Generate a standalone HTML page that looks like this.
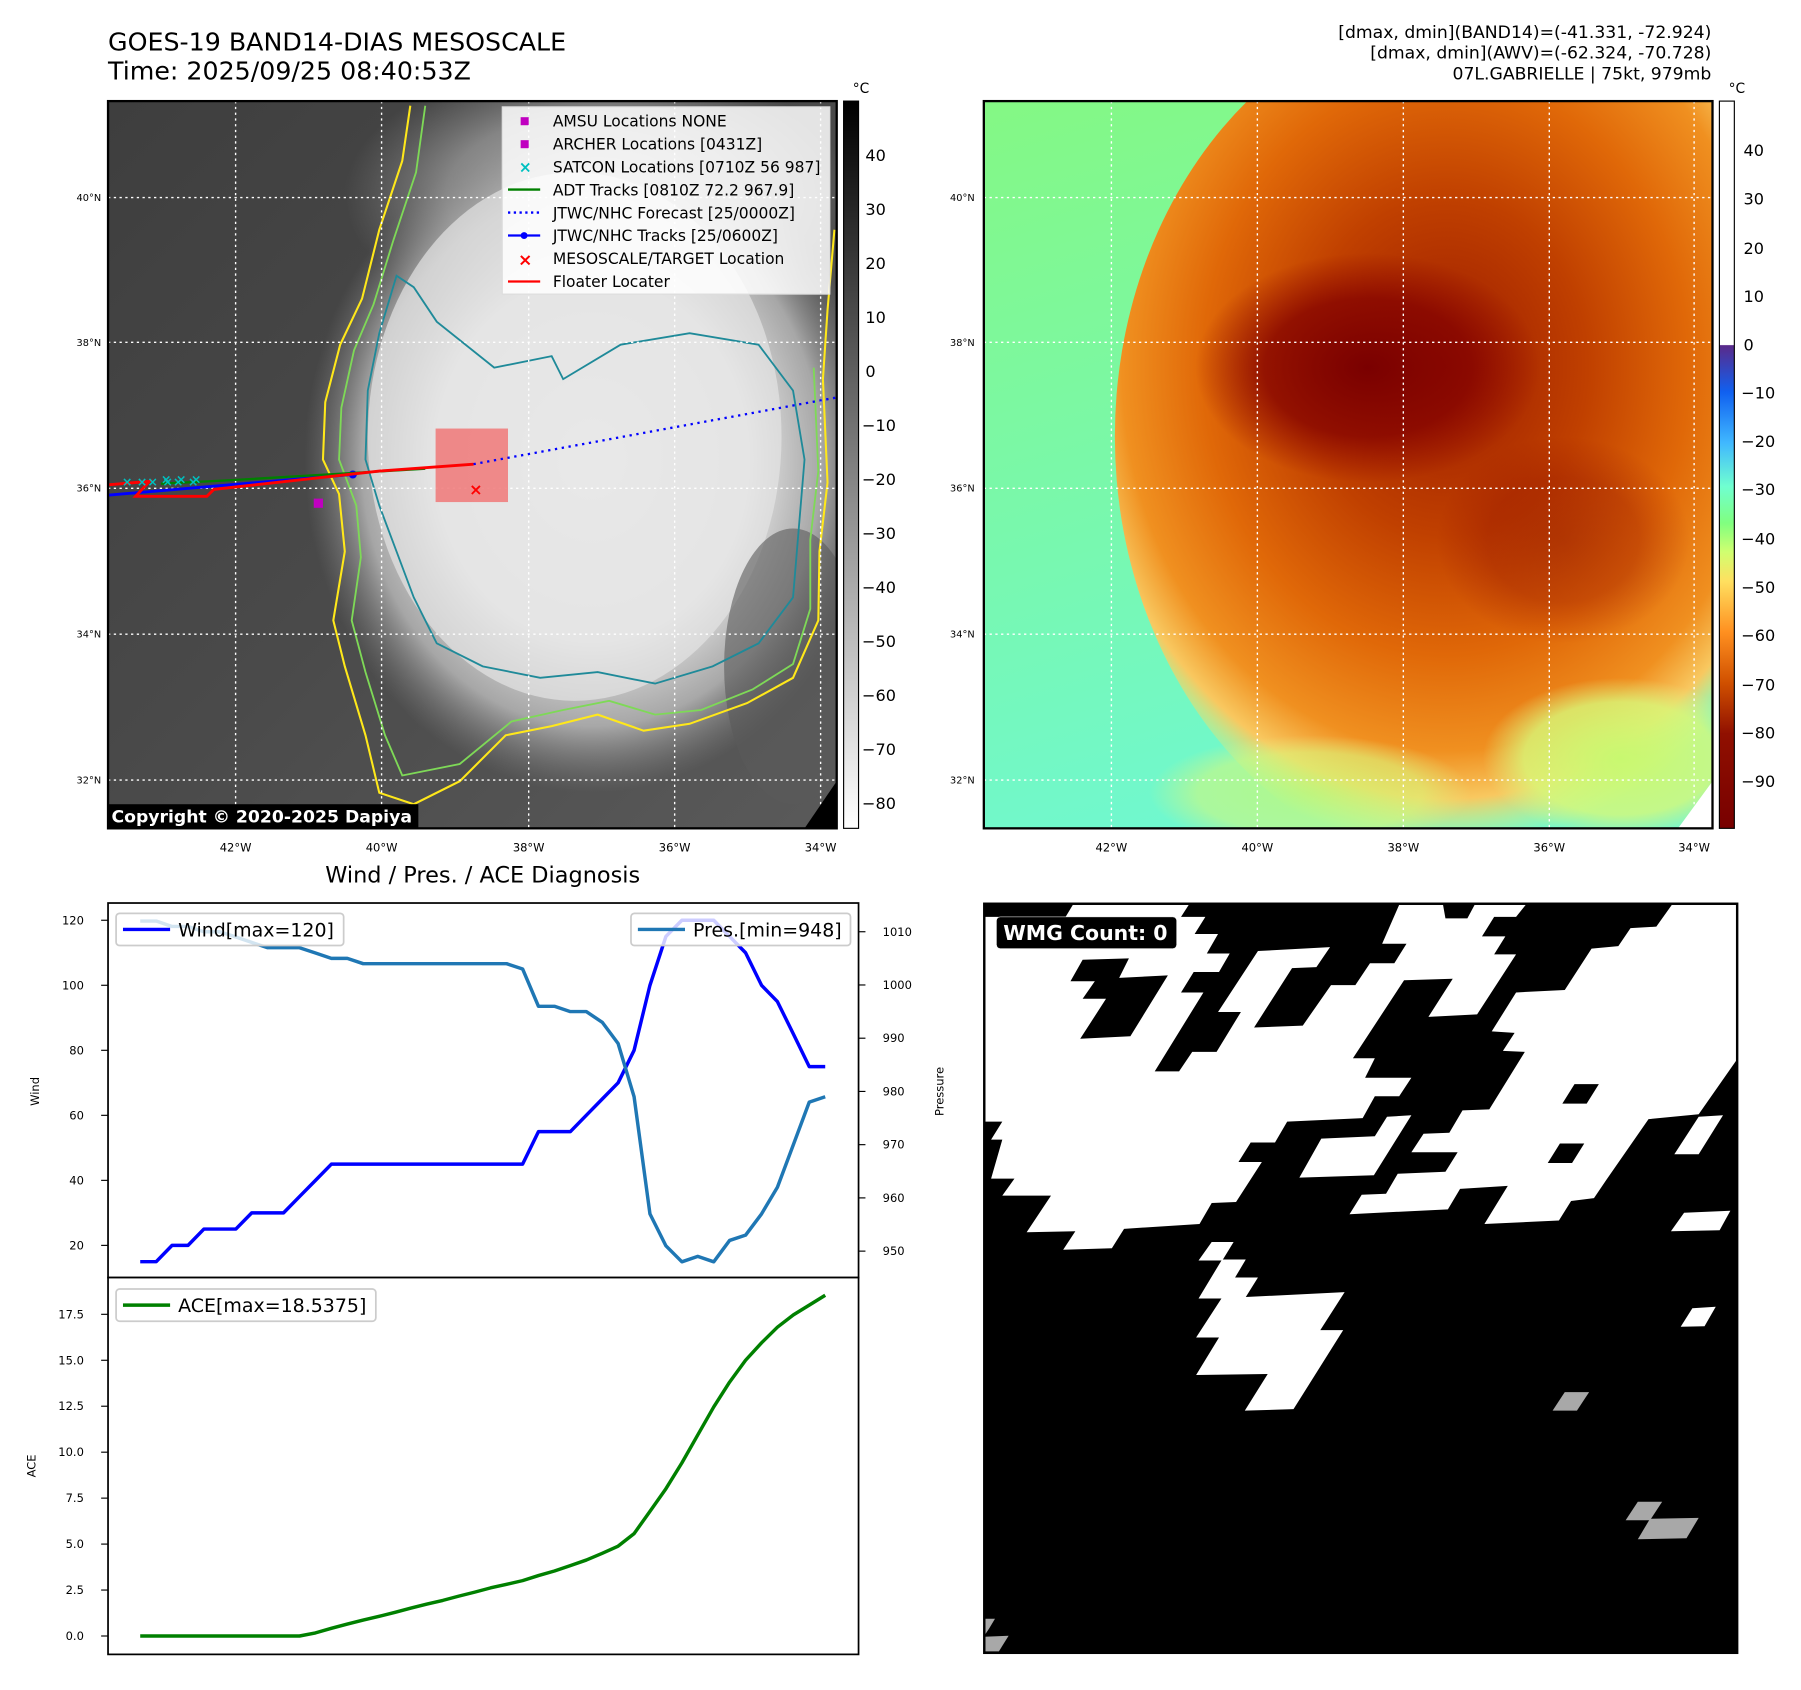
<!DOCTYPE html>
<html><head><meta charset="utf-8"><style>
html,body{margin:0;padding:0;background:#fff;}
svg{display:block;font-family:"DejaVu Sans","Liberation Sans",sans-serif;}
</style></head><body>
<svg id="root" width="1801" height="1690" viewBox="0 0 1567 1471" preserveAspectRatio="none" xmlns="http://www.w3.org/2000/svg">
<defs>
<radialGradient id="cloudG" cx="0.5" cy="0.5" r="0.5">
<stop offset="0" stop-color="#f2f2f2"/><stop offset="0.55" stop-color="#e6e6e6"/><stop offset="0.8" stop-color="#bdbdbd" stop-opacity="0.8"/><stop offset="1" stop-color="#888" stop-opacity="0"/>
</radialGradient>
<radialGradient id="topG" cx="0.5" cy="0.5" r="0.5">
<stop offset="0" stop-color="#c8c8c8"/><stop offset="0.6" stop-color="#a0a0a0" stop-opacity="0.7"/><stop offset="1" stop-color="#888" stop-opacity="0"/>
</radialGradient>
<linearGradient id="bgL" x1="0" y1="0" x2="1" y2="1">
<stop offset="0" stop-color="#3e3e3e"/><stop offset="0.5" stop-color="#4a4a4a"/><stop offset="1" stop-color="#5a5a5a"/>
</linearGradient>
<linearGradient id="cbL" x1="0" y1="0" x2="0" y2="1">
<stop offset="0" stop-color="#000"/><stop offset="1" stop-color="#fff"/>
</linearGradient>
<linearGradient id="cbR" x1="0" y1="0" x2="0" y2="1">
<stop offset="0" stop-color="#fff"/><stop offset="0.335" stop-color="#fff"/>
<stop offset="0.336" stop-color="#5a2a8a"/><stop offset="0.40" stop-color="#1060f0"/>
<stop offset="0.47" stop-color="#40b8ff"/><stop offset="0.53" stop-color="#70ffd0"/>
<stop offset="0.58" stop-color="#80ff80"/><stop offset="0.62" stop-color="#d0ff70"/>
<stop offset="0.66" stop-color="#ffe060"/><stop offset="0.73" stop-color="#ff9020"/>
<stop offset="0.80" stop-color="#d05000"/><stop offset="0.87" stop-color="#901000"/>
<stop offset="1" stop-color="#780000"/>
</linearGradient>
<linearGradient id="bgR" x1="0" y1="0" x2="0.3" y2="1">
<stop offset="0" stop-color="#84f884"/><stop offset="0.6" stop-color="#78f8b0"/><stop offset="1" stop-color="#70f8d0"/>
</linearGradient>
<radialGradient id="stormR" cx="0.45" cy="0.42" r="0.55">
<stop offset="0" stop-color="#9a1a00"/><stop offset="0.35" stop-color="#c04000"/>
<stop offset="0.6" stop-color="#e06808"/><stop offset="0.8" stop-color="#f09020"/>
<stop offset="0.9" stop-color="#f8c860"/><stop offset="1" stop-color="#d8f880" stop-opacity="0"/>
</radialGradient>
<radialGradient id="darkR" cx="0.5" cy="0.5" r="0.5">
<stop offset="0" stop-color="#7a0000"/><stop offset="0.6" stop-color="#860400" stop-opacity="0.8"/><stop offset="1" stop-color="#900800" stop-opacity="0"/>
</radialGradient>
<radialGradient id="yelR" cx="0.5" cy="0.5" r="0.5">
<stop offset="0" stop-color="#c8f870"/><stop offset="0.7" stop-color="#d8f878" stop-opacity="0.8"/><stop offset="1" stop-color="#e0f080" stop-opacity="0"/>
</radialGradient>
<clipPath id="clipL"><rect x="94" y="88" width="634" height="633"/></clipPath>
<clipPath id="clipR"><rect x="856" y="88" width="634" height="633"/></clipPath>
</defs>

<text x="94" y="44" font-size="22">GOES-19 BAND14-DIAS MESOSCALE</text>
<text x="94" y="69" font-size="22">Time: 2025/09/25 08:40:53Z</text>
<g font-size="15" text-anchor="end">
<text x="1489" y="33">[dmax, dmin](BAND14)=(-41.331, -72.924)</text>
<text x="1489" y="51">[dmax, dmin](AWV)=(-62.324, -70.728)</text>
<text x="1489" y="69">07L.GABRIELLE | 75kt, 979mb</text>
</g>

<g clip-path="url(#clipL)">
<rect x="94" y="88" width="634" height="633" fill="url(#bgL)"/>
<ellipse cx="520" cy="170" rx="220" ry="120" fill="url(#topG)"/>
<ellipse cx="515" cy="400" rx="250" ry="290" fill="url(#cloudG)"/>
<ellipse cx="500" cy="380" rx="180" ry="230" fill="#e4e4e4" opacity="0.7"/>
<ellipse cx="690" cy="580" rx="60" ry="120" fill="#5a5a5a" opacity="0.6"/>
<path d="M357,92 L350,140 L330,200 L315,260 L296,300 L283,350 L281,400 L295,430 L300,480 L290,540 L300,580 L318,640 L330,690 L360,700 L400,680 L440,640 L480,632 L520,622 L560,636 L600,630 L650,612 L690,590 L712,540 L713,480 L720,420 L716,330 L720,270 L726,200" fill="none" stroke="#ffe81a" stroke-width="1.8"/>
<path d="M370,92 L362,150 L342,210 L325,265 L308,305 L297,355 L295,400 L310,440 L314,485 L306,540 L318,585 L335,640 L350,675 L400,665 L445,628 L490,618 L530,610 L570,622 L610,618 L655,600 L690,578 L705,530 L705,470 L712,410 L708,320" fill="none" stroke="#7ed957" stroke-width="1.6"/>
<path d="M345,240 L330,290 L320,340 L318,400 L330,440 L345,480 L360,520 L380,560 L420,580 L470,590 L520,585 L570,595 L620,580 L660,560 L690,520 L695,460 L700,400 L690,340 L660,300 L600,290 L540,300 L490,330 L480,310 L430,320 L380,280 L360,250 Z" fill="none" stroke="#1f8a99" stroke-width="1.6"/>
<g stroke="#fff" stroke-width="1.2" stroke-dasharray="2,3">
<line x1="94" y1="172" x2="728" y2="172"/><line x1="94" y1="298" x2="728" y2="298"/><line x1="94" y1="425" x2="728" y2="425"/><line x1="94" y1="552" x2="728" y2="552"/><line x1="94" y1="679" x2="728" y2="679"/>
<line x1="205" y1="88" x2="205" y2="721"/><line x1="332" y1="88" x2="332" y2="721"/><line x1="460" y1="88" x2="460" y2="721"/><line x1="587" y1="88" x2="587" y2="721"/><line x1="714" y1="88" x2="714" y2="721"/>
</g>
<rect x="379" y="373" width="63" height="64" fill="#f07878" opacity="0.85"/>
<line x1="412" y1="404" x2="728" y2="346" stroke="#0000ff" stroke-width="2" stroke-dasharray="2,4"/>
<polyline points="94,431 200,422 307,413" fill="none" stroke="#0000ff" stroke-width="2.5"/>
<circle cx="307" cy="413" r="3.5" fill="#0000ff"/>
<polyline points="140,421 200,418 370,408" fill="none" stroke="#008000" stroke-width="2"/>
<polyline points="94,422 130,419 118,432 180,432 186,426 330,410 412,404" fill="none" stroke="#ff0000" stroke-width="2.5"/>
<g fill="#00c0c0" font-size="11" font-weight="bold"><text x="106" y="423">× ×× ×× ×</text><text x="140" y="421">× × ×</text></g>
<text x="414" y="431" fill="#ff0000" font-size="14" text-anchor="middle" font-weight="bold">×</text>
<rect x="273" y="434" width="8" height="8" fill="#c000c0"/>
<g>
<rect x="437" y="93" width="285" height="163" fill="#fff" fill-opacity="0.85" stroke="#ddd"/>
<g font-size="13.5">
<rect x="453" y="102" width="7" height="7" fill="#c000c0"/><text x="481" y="110">AMSU Locations NONE</text>
<rect x="453" y="122" width="7" height="7" fill="#c000c0"/><text x="481" y="130">ARCHER Locations [0431Z]</text>
<text x="457" y="150" fill="#00c0c0" text-anchor="middle" font-weight="bold">×</text><text x="481" y="150">SATCON Locations [0710Z 56 987]</text>
<line x1="442" y1="165" x2="470" y2="165" stroke="#008000" stroke-width="2"/><text x="481" y="170">ADT Tracks [0810Z 72.2 967.9]</text>
<line x1="442" y1="185" x2="470" y2="185" stroke="#0000ff" stroke-width="2" stroke-dasharray="2,3"/><text x="481" y="190">JTWC/NHC Forecast [25/0000Z]</text>
<line x1="442" y1="205" x2="470" y2="205" stroke="#0000ff" stroke-width="2"/><circle cx="456" cy="205" r="3" fill="#0000ff"/><text x="481" y="210">JTWC/NHC Tracks [25/0600Z]</text>
<text x="457" y="231" fill="#ff0000" text-anchor="middle" font-weight="bold" font-size="15">×</text><text x="481" y="230">MESOSCALE/TARGET Location</text>
<line x1="442" y1="245" x2="470" y2="245" stroke="#ff0000" stroke-width="2"/><text x="481" y="250">Floater Locater</text>
</g></g>
<polygon points="700,721 728,680 728,721" fill="#000"/>
<rect x="94" y="700" width="270" height="21" fill="#000"/>
<text x="97" y="716" fill="#fff" font-size="15" font-weight="bold">Copyright © 2020-2025 Dapiya</text>
</g>
<rect x="94" y="88" width="634" height="633" fill="none" stroke="#000" stroke-width="2"/>
<g font-size="8.5" text-anchor="end">
<text x="88" y="175">40°N</text><text x="88" y="301">38°N</text><text x="88" y="428">36°N</text><text x="88" y="555">34°N</text><text x="88" y="682">32°N</text></g>
<g font-size="10" text-anchor="middle">
<text x="205" y="741">42°W</text><text x="332" y="741">40°W</text><text x="460" y="741">38°W</text><text x="587" y="741">36°W</text><text x="714" y="741">34°W</text></g>
<rect x="734" y="88" width="13" height="633" fill="url(#cbL)" stroke="#000" stroke-width="1"/>
<text x="742" y="81" font-size="12">°C</text>
<g font-size="14">
<text x="753" y="140">40</text><text x="753" y="187">30</text><text x="753" y="234">20</text><text x="753" y="281">10</text><text x="753" y="328">0</text>
<text x="750" y="375">−10</text><text x="750" y="422">−20</text><text x="750" y="469">−30</text><text x="750" y="516">−40</text><text x="750" y="563">−50</text><text x="750" y="610">−60</text><text x="750" y="657">−70</text><text x="750" y="704">−80</text></g>

<g clip-path="url(#clipR)">
<rect x="856" y="88" width="634" height="633" fill="url(#bgR)"/>
<ellipse cx="1290" cy="380" rx="320" ry="380" fill="url(#stormR)"/>
<ellipse cx="1190" cy="320" rx="150" ry="100" fill="url(#darkR)"/>
<ellipse cx="1360" cy="470" rx="110" ry="90" fill="url(#darkR)" opacity="0.35"/>
<ellipse cx="1410" cy="660" rx="120" ry="70" fill="url(#yelR)"/>
<ellipse cx="1140" cy="690" rx="140" ry="50" fill="url(#yelR)" opacity="0.7"/>
<polygon points="1460,721 1490,680 1490,721" fill="#fff"/>
<g stroke="#fff" stroke-width="1.2" stroke-dasharray="2,3">
<line x1="856" y1="172" x2="1490" y2="172"/><line x1="856" y1="298" x2="1490" y2="298"/><line x1="856" y1="425" x2="1490" y2="425"/><line x1="856" y1="552" x2="1490" y2="552"/><line x1="856" y1="679" x2="1490" y2="679"/>
<line x1="967" y1="88" x2="967" y2="721"/><line x1="1094" y1="88" x2="1094" y2="721"/><line x1="1221" y1="88" x2="1221" y2="721"/><line x1="1348" y1="88" x2="1348" y2="721"/><line x1="1474" y1="88" x2="1474" y2="721"/>
</g></g>
<rect x="856" y="88" width="634" height="633" fill="none" stroke="#000" stroke-width="2"/>
<g font-size="8.5" text-anchor="end">
<text x="848" y="175">40°N</text><text x="848" y="301">38°N</text><text x="848" y="428">36°N</text><text x="848" y="555">34°N</text><text x="848" y="682">32°N</text></g>
<g font-size="10" text-anchor="middle">
<text x="967" y="741">42°W</text><text x="1094" y="741">40°W</text><text x="1221" y="741">38°W</text><text x="1348" y="741">36°W</text><text x="1474" y="741">34°W</text></g>
<rect x="1496" y="88" width="13" height="633" fill="url(#cbR)" stroke="#000" stroke-width="1"/>
<text x="1504" y="81" font-size="12">°C</text>
<g font-size="14">
<text x="1517" y="136">40</text><text x="1517" y="178">30</text><text x="1517" y="221">20</text><text x="1517" y="263">10</text><text x="1517" y="305">0</text>
<text x="1515" y="347">−10</text><text x="1515" y="389">−20</text><text x="1515" y="431">−30</text><text x="1515" y="474">−40</text><text x="1515" y="516">−50</text><text x="1515" y="558">−60</text><text x="1515" y="601">−70</text><text x="1515" y="643">−80</text><text x="1515" y="685">−90</text></g>

<svg x="853" y="779" width="661" height="666" viewBox="0 0 1560 1570" preserveAspectRatio="none">
<rect x="8" y="18" width="1546" height="1537" fill="#000"/>
<g fill="#fff">
<polygon points="8,45 175,45 190,20 428,20 412,45 462,45 440,80 488,80 465,120 512,120 490,158 438,158 412,200 458,200 358,362 408,362 435,322 485,322 535,240 488,240 570,115 718,107 690,148 640,150 562,272 662,268 720,185 770,185 800,140 850,140 875,100 825,100 860,20 950,20 955,48 1000,48 1015,20 1120,20 1100,45 1055,45 1030,85 1078,85 1055,122 1100,122 1020,245 920,250 970,172 870,175 765,335 810,335 790,375 885,375 860,413 810,413 785,458 630,465 605,508 555,508 530,548 578,548 525,630 475,632 450,675 295,685 270,725 170,728 195,690 95,692 145,617 45,617 70,582 22,582 45,502 22,502 45,465 8,465"/>
<polygon points="1310,105 1335,68 1388,65 1420,20 1552,20 1552,340 1475,450 1372,460 1285,585 1260,622 1213,628 1188,668 1035,675 1083,597 985,603 960,645 758,655 783,615 833,613 857,572 955,568 980,528 885,528 910,490 963,488 990,442 1045,440 1118,322 1073,320 1097,283 1050,280 1100,200 1200,195 1255,110"/>
<polygon points="655,580 700,500 810,495 835,455 885,452 808,575"/>
<polygon points="1425,532 1475,455 1525,452 1475,532"/>
<polygon points="1418,690 1445,652 1540,648 1518,688"/>
<polygon points="1438,886 1462,848 1510,845 1487,885"/>
<polygon points="448,750 475,712 520,712 498,748 545,748 523,785 570,785 545,825 748,815 698,893 745,893 643,1055 543,1058 590,983 443,985 490,908 443,908 495,828 448,828 495,750"/>
</g>
<g fill="#000">
<polygon points="185,177 235,177 210,213 258,213 205,295 308,290 385,165 285,170 305,130 210,133"/>
<polygon points="1220,388 1270,388 1245,428 1195,428"/>
<polygon points="1190,510 1240,510 1215,550 1165,550"/>
</g>
<g fill="#a8a8a8">
<polygon points="1175,1058 1200,1020 1250,1020 1225,1058"/>
<polygon points="1325,1283 1350,1245 1400,1245 1375,1283"/>
<polygon points="1350,1322 1375,1280 1475,1278 1450,1320"/>
<polygon points="8,1520 8,1485 30,1485 18,1505"/>
<polygon points="8,1552 8,1522 58,1520 38,1552"/>
</g>
<rect x="8" y="18" width="1546" height="1537" fill="none" stroke="#000" stroke-width="5"/>
<rect x="33" y="45" width="370" height="65" rx="8" fill="#000" stroke="#fff" stroke-width="1"/>
<text x="47" y="92" fill="#fff" font-size="42" font-weight="bold">WMG Count: 0</text>
</svg>

<text x="420" y="768" font-size="19.5" text-anchor="middle">Wind / Pres. / ACE Diagnosis</text>
<g id="chart"></g>
<text transform="translate(34,950) rotate(-90)" font-size="10" text-anchor="middle">Wind</text>
<text transform="translate(821,950) rotate(-90)" font-size="10" text-anchor="middle">Pressure</text>
<text transform="translate(31,1276) rotate(-90)" font-size="10" text-anchor="middle">ACE</text>
</svg>
<script>
const windVals=[15,15,20,20,25,25,25,30,30,30,35,40,45,45,45,45,45,45,45,45,45,45,45,45,45,55,55,55,60,65,70,80,100,115,120,120,120,115,110,100,95,85,75,75];
const presVals=[1012,1012,1011,1011,1010,1010,1009,1008,1007,1007,1007,1006,1005,1005,1004,1004,1004,1004,1004,1004,1004,1004,1004,1004,1003,996,996,995,995,993,989,979,957,951,948,949,948,952,953,957,962,970,978,979];
const aceVals=[0,0,0,0,0,0,0,0,0,0,0,0.17,0.42,0.65,0.87,1.07,1.29,1.52,1.74,1.94,2.17,2.39,2.62,2.81,3.01,3.29,3.54,3.83,4.13,4.5,4.89,5.57,6.78,8.01,9.42,10.94,12.46,13.81,15.0,15.95,16.8,17.47,18.0,18.54];
const windTicks=[20,40,60,80,100,120];
const presTicks=[950,960,970,980,990,1000,1010];
const aceTicks=[0,2.5,5,7.5,10,12.5,15,17.5];

const NS='http://www.w3.org/2000/svg';
const chart=document.getElementById('chart');
function xS(i){return 122+(718-122)*i/(windVals.length-1);}
function yW(v){return 1084-(v-20)*(1084-801)/100;}
function yP(v){return 1089-(v-950)*(1089-811)/60;}
function yA(v){return 1424-v*(1424-1144)/17.5;}
function mk(tag,attrs,parent){const e=document.createElementNS(NS,tag);for(const k in attrs)e.setAttribute(k,attrs[k]);(parent||chart).appendChild(e);return e;}
function line(vals,yf,color,name){
  const d=vals.map((v,i)=>(i?'L':'M')+xS(i).toFixed(1)+','+yf(v).toFixed(1)).join(' ');
  const p=mk('path',{d:d,fill:'none',stroke:color,'stroke-width':3,'stroke-linejoin':'round'});
  
  
}
mk('rect',{x:94,y:786,width:653,height:326,fill:'#fff',stroke:'#000','stroke-width':1.5});
mk('rect',{x:94,y:1112,width:653,height:328,fill:'#fff',stroke:'#000','stroke-width':1.5});
windTicks.forEach(t=>{const y=yW(t);mk('line',{x1:88,y1:y,x2:94,y2:y,stroke:'#000'});
  const tx=mk('text',{x:73,y:y+3.5,'font-size':10,'text-anchor':'end'});tx.textContent=t;
  
  });
presTicks.forEach(t=>{const y=yP(t);mk('line',{x1:747,y1:y,x2:753,y2:y,stroke:'#000'});
  const tx=mk('text',{x:768,y:y+3.5,'font-size':10});tx.textContent=t;
  
  });
aceTicks.forEach(t=>{const y=yA(t);mk('line',{x1:88,y1:y,x2:94,y2:y,stroke:'#000'});
  const tx=mk('text',{x:73,y:y+3.5,'font-size':10,'text-anchor':'end'});tx.textContent=t.toFixed(1);
  
  });
line(windVals,yW,'#0000ff','wind-line');
line(presVals,yP,'#1f77b4','pressure-line');
line(aceVals,yA,'#008000','ace-line');
function legend(x,y,w,color,label,name){
  const g=mk('g',{});
  
  
  mk('rect',{x:x,y:y,width:w,height:28,rx:3,fill:'#fff','fill-opacity':0.8,stroke:'#ccc','stroke-width':1.5},g);
  mk('line',{x1:x+6,y1:y+14,x2:x+47,y2:y+14,stroke:color,'stroke-width':3},g);
  const t=mk('text',{x:x+54,y:y+20,'font-size':16.5},g);t.textContent=label;
}
legend(101,795,198,'#0000ff','Wind[max=120]','wind-legend');
legend(549,795,191,'#1f77b4','Pres.[min=948]','pressure-legend');
legend(101,1122,226,'#008000','ACE[max=18.5375]','ace-legend');
</script>
</body></html>
